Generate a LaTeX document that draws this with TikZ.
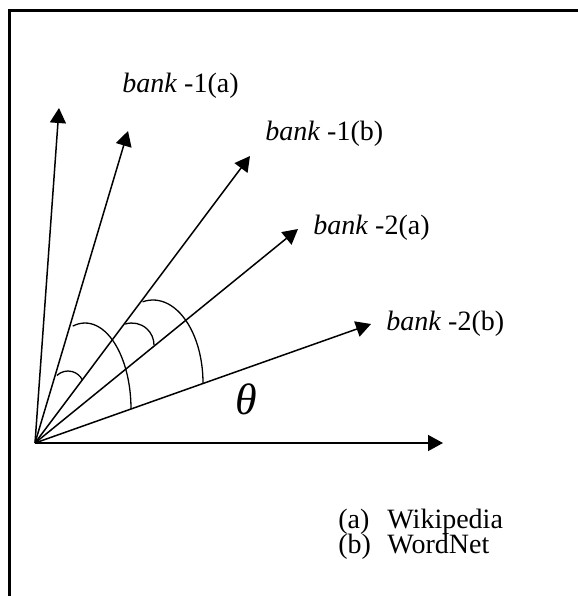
\documentclass[tikz,border=0pt]{standalone}
\usepackage{fontspec}
\setmainfont{Liberation Serif}
\usetikzlibrary{arrows.meta}

\tikzset{
  vec/.style={line width=0.75pt,-{Triangle[length=7.5pt,width=8pt]}},
  ang/.style={line width=0.65pt},
  lbl/.style={anchor=west,inner sep=0pt,font=\fontsize{14}{17}\selectfont}
}

\begin{document}
\begin{tikzpicture}[x=0.5pt,y=-0.5pt]
  \useasboundingbox (0,0) rectangle (578,596);
  \draw[line width=1.3pt] (9.7,596) -- (9.7,10.5) -- (578,10.5);

  \coordinate (O) at (35,443);
  \coordinate (tipA) at (59,108);
  \coordinate (tipB) at (128,131);
  \coordinate (tipC) at (250,156);
  \coordinate (tipD) at (298,229);
  \coordinate (tipE) at (371,324);
  \coordinate (tipX) at (443,443);
  \foreach \t in {A,B,C,D,E,X}
    \draw[vec] (O) -- (tip\t);

  % angle marks
  \draw[ang] (68,387) ++(134:8pt) arc[start angle=134,end angle=26,radius=8pt];
  \draw[ang] (85,409) ++(105.5:23pt and 43pt) arc[start angle=105.5,end angle=0,x radius=23pt,y radius=43pt];
  \draw[ang] (132,345) ++(108:11pt) arc[start angle=108,end angle=0,radius=11pt];
  \draw[ang] (153,383) ++(102:25pt and 41.5pt) arc[start angle=102,end angle=0,x radius=25pt,y radius=41.5pt];

  \node[lbl] (b1a) at (122,86) {\textit{bank} -1(a)};
  \node[lbl] (b1b) at (265,134) {\textit{bank} -1(b)};
  \node[lbl] (b2a) at (313,228) {\textit{bank} -2(a)};
  \node[lbl] (b2b) at (386,324) {\textit{bank} -2(b)};
  \node[font=\fontsize{22}{26}\selectfont\itshape] (theta) at (246,399) {θ};

  \node[lbl] (wiki) at (338,522) {\makebox[24.5pt][l]{(a)}Wikipedia};
  \node[lbl] (wnet) at (338,547) {\makebox[24.5pt][l]{(b)}WordNet};
\end{tikzpicture}
\end{document}
